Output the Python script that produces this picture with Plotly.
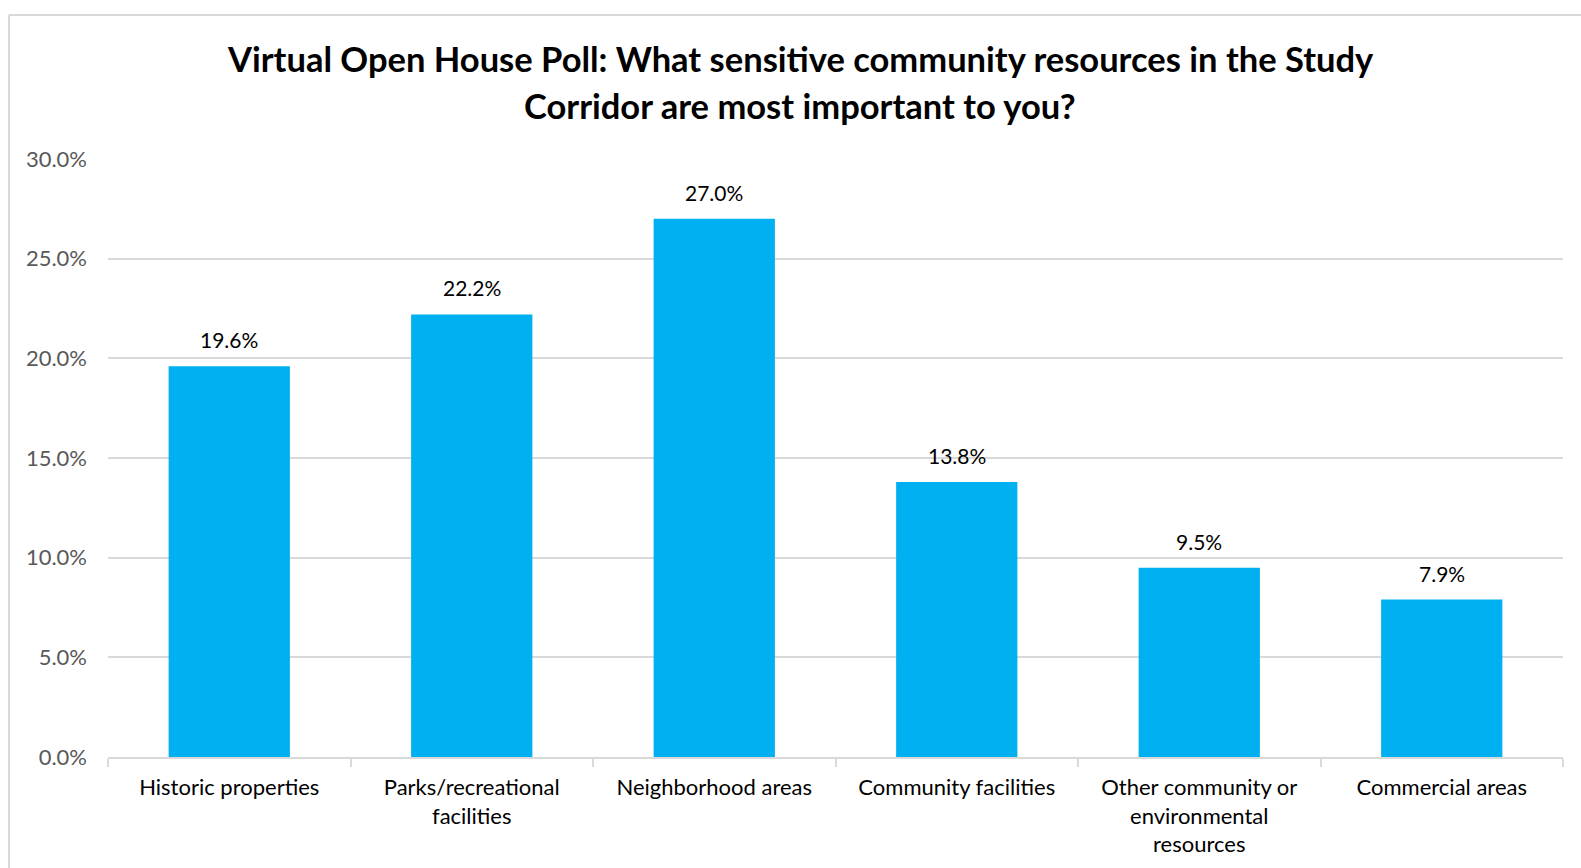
import plotly.graph_objects as go

categories = ["Historic properties", "Parks/recreational<br>facilities", "Neighborhood areas",
              "Community facilities", "Other community or<br>environmental<br>resources", "Commercial areas"]
values = [19.6, 22.2, 27.0, 13.8, 9.5, 7.9]
tick_vals = [0, 5, 10, 15, 20, 25, 30]
tick_text = ["0.0%", "5.0%", "10.0%", "15.0%", "20.0%", "25.0%", "30.0%"]
title_lines = ["Virtual Open House Poll: What sensitive community resources in the Study",
               "Corridor are most important to you?"]

W, H = 1581, 868
L, R, T, B = 108, 18, 159, 111
pw, ph = W - L - R, H - T - B

def px_x(x):
    return (x - L) / pw

def px_y(y):
    return (H - B - y) / ph

FONT = "Lato, 'Open Sans', sans-serif"

fig = go.Figure(go.Bar(
    x=categories, y=values,
    marker=dict(color="#00B0F0", line=dict(width=0)),
))

for c, v in zip(categories, values):
    fig.add_annotation(x=c, y=v, text=f"{v:.1f}%", showarrow=False,
                       xanchor="center", yanchor="bottom", yshift=12,
                       font=dict(family=FONT, size=21, color="#000000"))

fig.update_layout(
    width=W, height=H,
    margin=dict(l=L, r=R, t=T, b=B),
    paper_bgcolor="white", plot_bgcolor="white",
    bargap=0.5,
    showlegend=False,
    font=dict(family=FONT),
    xaxis=dict(
        showline=True, linecolor="#D9D9D9", linewidth=1.5,
        ticks="outside", tickson="boundaries", ticklen=8, tickcolor="#D9D9D9", tickwidth=1.5,
        tickfont=dict(family=FONT, size=22, color="#000000"),
        showgrid=False,
        ticklabelstandoff=10,
    ),
    yaxis=dict(
        range=[0, 30], tickvals=tick_vals, ticktext=tick_text,
        showgrid=True, gridcolor="#D9D9D9", gridwidth=1.5,
        zeroline=False, showline=False,
        tickfont=dict(family=FONT, size=22, color="#595959"),
        ticklabelstandoff=20,
    ),
)

fig.add_annotation(text="<b>" + title_lines[0] + "</b>", xref="paper", yref="paper",
                   x=px_x(800), y=px_y(58.5), xanchor="center", yanchor="middle", showarrow=False,
                   font=dict(family=FONT, size=34.5, color="#000000"))
fig.add_annotation(text="<b>" + title_lines[1] + "</b>", xref="paper", yref="paper",
                   x=px_x(800), y=px_y(105), xanchor="center", yanchor="middle", showarrow=False,
                   font=dict(family=FONT, size=34.5, color="#000000"))

# chart-area border (top and left visible)
fig.add_shape(type="line", xref="paper", yref="paper", x0=px_x(9), x1=px_x(W + 5), y0=px_y(15), y1=px_y(15),
              line=dict(color="#D9D9D9", width=2))
fig.add_shape(type="line", xref="paper", yref="paper", x0=px_x(9), x1=px_x(9), y0=px_y(15), y1=px_y(H + 5),
              line=dict(color="#D9D9D9", width=2))

fig.write_html("out.html")
